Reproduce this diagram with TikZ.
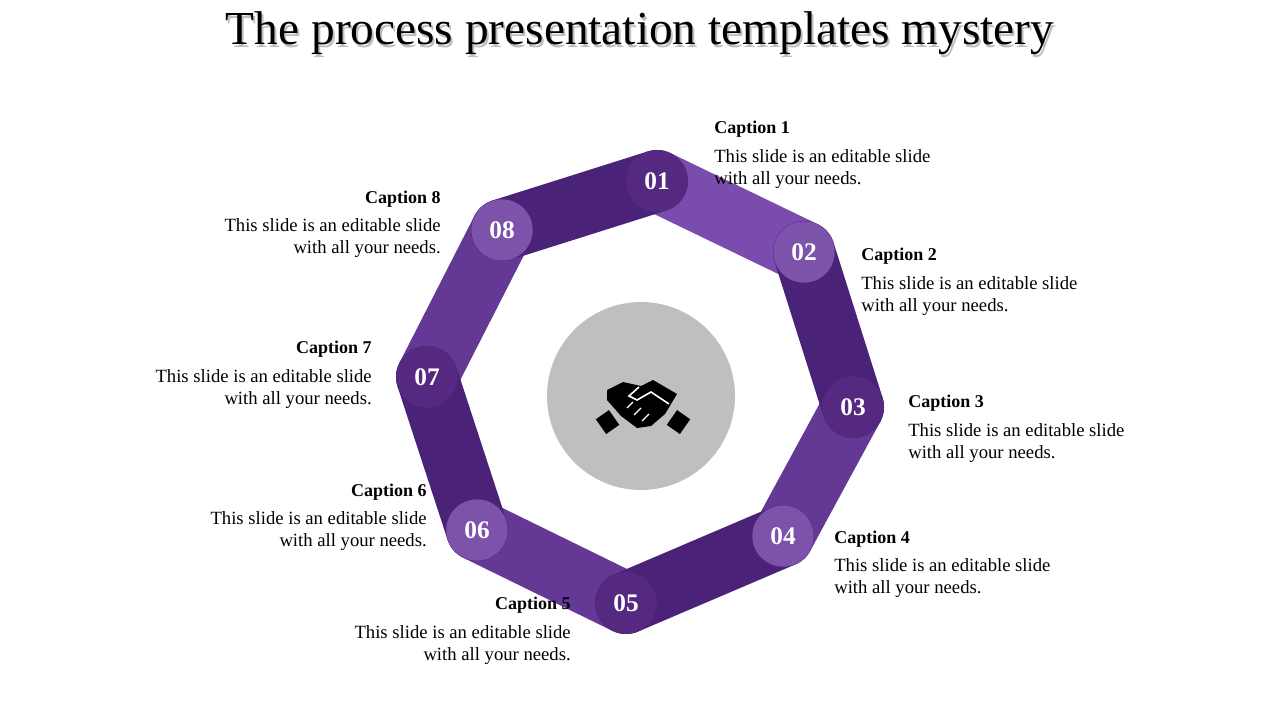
\documentclass[tikz,border=0pt]{standalone}
\usepackage{fontspec}
\setmainfont{Liberation Serif}
\begin{document}
\begin{tikzpicture}[x=0.75pt,y=-0.75pt,
  band/.style={line width=46.5pt,line cap=round},
  num/.style={circle,minimum size=46pt,inner sep=0pt,text=white,font=\bfseries\fontsize{19}{20}\selectfont},
  captitle/.style={font=\bfseries\fontsize{13.5}{15}\selectfont,inner sep=0pt},
  body/.style={font=\fontsize{14}{16.5}\selectfont,inner sep=0pt}]
\definecolor{pd}{HTML}{4A2378}
\definecolor{pm}{HTML}{643895}
\definecolor{pl}{HTML}{7A4CAE}
\definecolor{cd}{HTML}{55297F}
\definecolor{cl}{HTML}{7C52AB}
\useasboundingbox (0,0) rectangle (1280,720);
\node[text=black!25,font=\fontsize{35.5}{38}\selectfont] at (642,36) {The process presentation templates mystery};
\node[font=\fontsize{35.5}{38}\selectfont] (title) at (640,33) {The process presentation templates mystery};
\coordinate (c1) at (657,181); \coordinate (c2) at (804,252);
\coordinate (c3) at (853,407); \coordinate (c4) at (783,536);
\coordinate (c5) at (626,603); \coordinate (c6) at (477,530);
\coordinate (c7) at (427,377); \coordinate (c8) at (502,230);
\draw[band,pl] (c1)--(c2);
\draw[band,pm] (c3)--(c4);
\draw[band,pm] (c5)--(c6);
\draw[band,pm] (c7)--(c8);
\draw[band,pd] (c8)--(c1);
\draw[band,pd] (c2)--(c3);
\draw[band,pd] (c4)--(c5);
\draw[band,pd] (c6)--(c7);
\node[num,fill=cd] (n1) at (c1) {01};
\node[num,fill=cl] (n2) at (c2) {02};
\node[num,fill=cd] (n3) at (c3) {03};
\node[num,fill=cl] (n4) at (c4) {04};
\node[num,fill=cd] (n5) at (c5) {05};
\node[num,fill=cl] (n6) at (c6) {06};
\node[num,fill=cd] (n7) at (c7) {07};
\node[num,fill=cl] (n8) at (c8) {08};
\node[circle,fill=black!25,minimum size=141pt] (hub) at (641,396) {};
% handshake
\begin{scope}[shift={(643,396)}]
\fill[black,rotate=35] (-52,-8) rectangle (-36,10);
\fill[black,rotate=-35] (36,-8) rectangle (52,10);
\fill[black] (-36,-6) -- (-20,-14) -- (-2,-10) -- (10,-16) -- (34,-2) -- (22,18) -- (8,30) -- (-6,32) -- (-22,20) -- (-36,4) -- cycle;
\draw[white,line width=1.2pt] (-4,-9) -- (-14,0) -- (-6,4) -- (8,-4) -- (26,8);
\draw[white,line width=1pt] (-16,12)--(-10,6) (-9,19)--(-2,12) (-1,25)--(6,18);
\end{scope}
% captions
\node[captitle,anchor=west] (k1) at (714,129) {Caption 1};
\node[body,anchor=north west,align=left] (b1) at (714,149) {This slide is an editable slide\\with all your needs.};
\node[captitle,anchor=west] (k2) at (861,256) {Caption 2};
\node[body,anchor=north west,align=left] (b2) at (861,276) {This slide is an editable slide\\with all your needs.};
\node[captitle,anchor=west] (k3) at (908,403) {Caption 3};
\node[body,anchor=north west,align=left] (b3) at (908,423) {This slide is an editable slide\\with all your needs.};
\node[captitle,anchor=west] (k4) at (834,539) {Caption 4};
\node[body,anchor=north west,align=left] (b4) at (834,558) {This slide is an editable slide\\with all your needs.};
\node[captitle,anchor=east] (k5) at (571,605) {Caption 5};
\node[body,anchor=north east,align=right] (b5) at (571,625) {This slide is an editable slide\\with all your needs.};
\node[captitle,anchor=east] (k6) at (427,492) {Caption 6};
\node[body,anchor=north east,align=right] (b6) at (427,511) {This slide is an editable slide\\with all your needs.};
\node[captitle,anchor=east] (k7) at (372,349) {Caption 7};
\node[body,anchor=north east,align=right] (b7) at (372,369) {This slide is an editable slide\\with all your needs.};
\node[captitle,anchor=east] (k8) at (441,199) {Caption 8};
\node[body,anchor=north east,align=right] (b8) at (441,218) {This slide is an editable slide\\with all your needs.};
\end{tikzpicture}
\end{document}
